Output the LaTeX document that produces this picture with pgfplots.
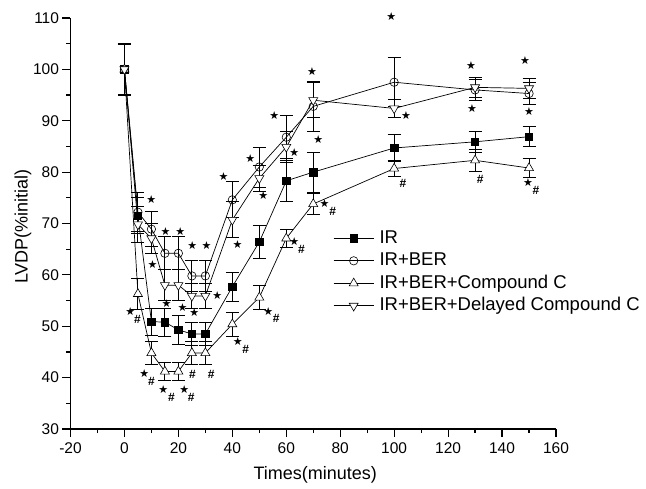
\documentclass[border=0pt]{standalone}
\usepackage{fontspec}
\setmainfont{Liberation Sans}
\newfontfamily\dejavu{DejaVu Sans}
\usepackage{pgfplots}
\usepackage{pgfplotstable}
\pgfplotsset{compat=1.18}

% x  y  err
\pgfplotstableread{
x y e
0 100 5.0
5 71.5 3.5
10 50.9 2.6
15 50.8 2.7
20 49.3 2.8
25 48.5 2.2
30 48.5 2.2
40 57.7 2.8
50 66.4 3.3
60 78.3 4.0
70 80.0 3.9
100 84.7 2.6
130 85.9 2.0
150 86.9 1.9
}\ir
\pgfplotstableread{
x y e
0 100 4.8
5 72.2 3.8
10 68.9 3.4
15 64.2 3.2
20 64.2 3.2
25 59.8 3.0
30 59.8 3.0
40 74.6 3.5
50 81.0 3.9
60 86.8 4.2
70 92.8 4.8
100 97.5 4.8
130 96.0 2.0
150 95.3 2.2
}\irber
\pgfplotstableread{
x y e
0 100 5.0
5 56.3 3.0
10 44.8 2.2
15 41.2 1.8
20 41.2 1.8
25 44.8 2.2
30 44.8 2.2
40 50.4 2.3
50 55.6 2.4
60 67.1 1.8
70 73.8 2.1
100 80.7 1.6
130 82.3 2.2
150 80.8 1.9
}\compc
\pgfplotstableread{
x y e
0 100 5.0
5 69.8 3.5
10 67.1 3.0
15 58.0 3.0
20 58.0 3.0
25 55.9 2.5
30 55.9 2.5
40 70.7 3.5
50 78.8 2.5
60 84.9 3.0
70 94.0 3.4
100 92.4 1.7
130 96.5 2.0
150 96.3 2.0
}\delayed

\newcommand\st[2]{\node[font=\dejavu\fontsize{11}{11}\selectfont, inner sep=0pt] at (axis cs:#1,#2) {★};}
\newcommand\hs[2]{\node[font=\fontsize{12}{12}\selectfont\bfseries, inner sep=0pt] at (axis cs:#1,#2) {\#};}

\begin{document}
\begin{tikzpicture}
\useasboundingbox (-70.5pt,-59pt) rectangle (575.5pt,429pt);
\begin{axis}[
    scale only axis,
    width=485.5pt, height=411pt,
    xmin=-20, xmax=160, ymin=30, ymax=110,
    axis lines=left,
    axis line style={-, line width=1.5pt},
    xtick={-20,0,...,160},
    ytick={30,40,...,110},
    minor x tick num=1, minor y tick num=1,
    tick align=outside,
    major tick length=8pt, minor tick length=4pt,
    tick style={black, line width=1.2pt},
    /pgf/number format/assume math mode=true,
    tick label style={font=\fontsize{15.5}{18}\selectfont},
    xticklabel style={yshift=-2pt},
    xlabel={Times(minutes)},
    ylabel={LVDP(\%initial)},
    label style={font=\fontsize{18}{21}\selectfont},
    xlabel style={at={(axis description cs:0.504,-0.112)}, anchor=center},
    ylabel style={at={(axis description cs:-0.098,0.493)}, anchor=center},
    legend style={at={(axis description cs:0.541,0.49)}, anchor=north west,
        draw=none, fill=none, inner sep=0pt, row sep=1.5pt,
        font=\fontsize{18.5}{21}\selectfont,
        nodes={inner sep=1.5pt, text height=14pt, text depth=4pt},
        /tikz/every odd column/.style={column sep=4pt}},
    legend cell align=left,
    legend image code/.code={\draw[mark repeat=2, mark phase=2] plot coordinates {(0pt,0pt) (20pt,0pt) (40pt,0pt)};},
    clip=false,
    every axis plot/.append style={black, line width=0.7pt},
    error bars/error bar style={line width=0.9pt, black},
    error bars/error mark options={rotate=90, black, line width=0.9pt, mark size=6.5pt},
]
\addplot[mark=square*, mark size=3.7pt, mark options={solid, fill=black, line width=0.6pt},
    error bars/.cd, y dir=both, y explicit] table[x=x, y=y, y error=e] {\ir};
\addplot[mark=o, mark size=4.2pt, mark options={solid, fill=white, line width=0.6pt},
    error bars/.cd, y dir=both, y explicit] table[x=x, y=y, y error=e] {\irber};
\addplot[mark=triangle*, mark size=5.2pt, mark options={solid, fill=white, line width=0.6pt},
    error bars/.cd, y dir=both, y explicit] table[x=x, y=y, y error=e] {\compc};
\addplot[mark=triangle*, mark size=5.2pt, mark options={solid, fill=white, line width=0.6pt, rotate=180},
    error bars/.cd, y dir=both, y explicit] table[x=x, y=y, y error=e] {\delayed};
\legend{IR, IR+BER, IR+BER+Compound C, IR+BER+Delayed Compound C}
% significance markers
\st{10.0}{74.7}
\st{15.2}{68.5} \st{20.7}{68.5}
\st{25.2}{65.8} \st{30.4}{65.8}
\st{10.4}{62.1}
\st{15.6}{54.5} \st{21.5}{53.7} \st{25.9}{52.6} \st{34.4}{55.9}
\st{2.2}{52.8} \hs{4.8}{51.4}
\st{7.4}{40.7} \hs{10.0}{39.3}
\st{14.4}{37.6} \hs{17.4}{36.2}
\st{22.2}{37.6} \hs{24.8}{36.2}
\hs{25.2}{40.7} \hs{32.2}{40.7}
\st{36.7}{79.2} \st{41.9}{66.0}
\st{42.0}{47.0} \hs{45.0}{45.4}
\st{46.7}{82.7} \st{51.5}{75.5}
\st{53.3}{52.8} \hs{56.3}{51.6}
\st{55.6}{91.1} \st{63.0}{83.9}
\st{63.0}{66.4} \hs{65.6}{65.0}
\st{69.6}{99.5} \st{71.9}{86.4}
\st{74.2}{73.9} \hs{77.2}{72.3}
\st{98.9}{110.2} \st{104.4}{91.1} \hs{103.3}{77.9}
\st{128.5}{100.8} \st{128.9}{92.3} \hs{131.9}{78.6}
\st{148.5}{101.8} \st{150.0}{91.7}
\st{149.6}{77.9} \hs{152.6}{76.5}
\end{axis}
\end{tikzpicture}
\end{document}
